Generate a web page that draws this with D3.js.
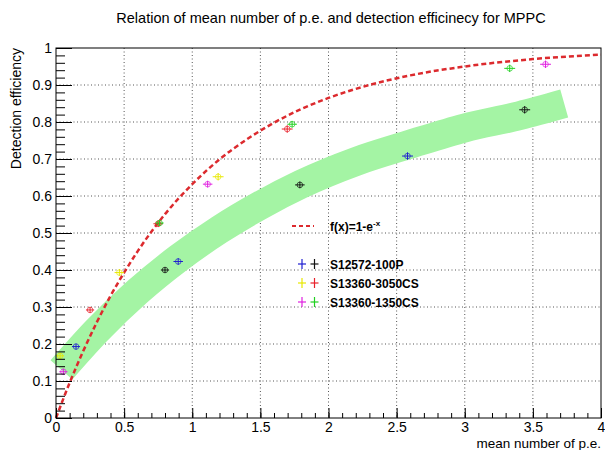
<!DOCTYPE html>
<html>
<head>
<meta charset="utf-8">
<script src="https://cdn.jsdelivr.net/npm/d3@7"></script>
<style>
	body { margin: 0; background: #fff; }
	svg { font-family: 'Liberation Sans', Arial, sans-serif; }
</style>
</head>
<body>
<div id="chart"></div>
<script>
// values
const xTicks = [0, 0.5, 1, 1.5, 2, 2.5, 3, 3.5, 4];
const yTicks = [0, 0.1, 0.2, 0.3, 0.4, 0.5, 0.6, 0.7, 0.8, 0.9, 1];

// S12572-100P
const blueX = [0.147, 0.897, 2.58];
const blueY = [0.193, 0.423, 0.708];
const blackX = [0.8, 1.79, 3.44];
const blackY = [0.4, 0.63, 0.833];
// S13360-3050CS
const yellowX = [0.03, 0.465, 1.19];
const yellowY = [0.168, 0.393, 0.652];
const redX = [0.25, 0.75, 1.697];
const redY = [0.292, 0.525, 0.781];
// S13360-1350CS
const magentaX = [0.054, 1.113, 3.593];
const magentaY = [0.125, 0.632, 0.956];
const greenX = [0.76, 1.733, 3.33];
const greenY = [0.527, 0.794, 0.945];

const errX = [0.03, 0.035, 0.04];
const errY = [0.008, 0.009, 0.01];

// broad green guide band (centre line)
const bandX = [0.04, 0.3, 0.6, 0.9, 1.2, 1.5, 1.8, 2.2, 2.6, 3.0, 3.4, 3.73];
const bandY = [0.13, 0.236, 0.342, 0.432, 0.509, 0.575, 0.632, 0.693, 0.74, 0.784, 0.817, 0.85];

// f(x) = 1 - e^-x sampled
const fX = [0, 0.1, 0.2, 0.3, 0.4, 0.5, 0.6, 0.8, 1.0, 1.2, 1.4, 1.6, 1.8, 2.0, 2.3, 2.6, 3.0, 3.5, 4.0];
const fY = [0, 0.095, 0.181, 0.259, 0.33, 0.393, 0.451, 0.551, 0.632, 0.699, 0.753, 0.798, 0.835, 0.865, 0.9, 0.926, 0.95, 0.97, 0.982];

const series = [
	{ name: 'blue', color: '#1f1fd0', x: blueX, y: blueY },
	{ name: 'black', color: '#111', x: blackX, y: blackY },
	{ name: 'yellow', color: '#e8e800', x: yellowX, y: yellowY },
	{ name: 'red', color: '#e8202a', x: redX, y: redY },
	{ name: 'magenta', color: '#e020e0', x: magentaX, y: magentaY },
	{ name: 'green', color: '#20d020', x: greenX, y: greenY },
];

const legendRows = [
	{ label: 'S12572-100P', colors: ['#1f1fd0', '#111'] },
	{ label: 'S13360-3050CS', colors: ['#e8e800', '#e8202a'] },
	{ label: 'S13360-1350CS', colors: ['#e020e0', '#20d020'] },
];

const W = 605, H = 450;
const margin = { top: 48, right: 4, bottom: 32, left: 56 };
const width = W - margin.left - margin.right;
const height = H - margin.top - margin.bottom;

const svg = d3.select('#chart').append('svg').attr('width', W).attr('height', H);

const x = d3.scaleLinear().domain([0, 4]).range([0, width]);
const y = d3.scaleLinear().domain([0, 1]).range([height, 0]);

const g = svg.append('g').attr('transform', `translate(${margin.left},${margin.top})`);

// grid
g.append('g')
	.selectAll('line')
	.data(xTicks.slice(1, -1))
	.join('line')
	.attr('x1', (d) => x(d)).attr('x2', (d) => x(d))
	.attr('y1', 0).attr('y2', height)
	.attr('stroke', '#555').attr('stroke-width', 1).attr('stroke-dasharray', '1,2.5');
g.append('g')
	.selectAll('line')
	.data(yTicks.slice(1, -1))
	.join('line')
	.attr('y1', (d) => y(d)).attr('y2', (d) => y(d))
	.attr('x1', 0).attr('x2', width)
	.attr('stroke', '#555').attr('stroke-width', 1).attr('stroke-dasharray', '1,2.5');

// band
const bandPts = bandX.map((d, i) => [d, bandY[i]]);
g.append('path')
	.datum(bandPts)
	.attr('fill', 'none')
	.attr('stroke', '#a4f4a4')
	.attr('stroke-width', 29)
	.attr('stroke-linecap', 'butt')
	.attr('d', d3.line().x((d) => x(d[0])).y((d) => y(d[1])).curve(d3.curveMonotoneX));

// f(x)
const fPts = fX.map((d, i) => [d, fY[i]]);
g.append('path')
	.datum(fPts)
	.attr('fill', 'none')
	.attr('stroke', '#dc2a2e')
	.attr('stroke-width', 2.5)
	.attr('stroke-dasharray', '5,3')
	.attr('d', d3.line().x((d) => x(d[0])).y((d) => y(d[1])).curve(d3.curveMonotoneX));

// points with error bars
series.forEach((s) => {
	const pts = s.x.map((d, i) => ({ x: d, y: s.y[i], ex: errX[i], ey: errY[i] }));
	const pg = g.append('g').attr('stroke', s.color).attr('fill', 'none').attr('stroke-width', 1);
	pg.selectAll('.ex').data(pts).join('line')
		.attr('x1', (d) => x(d.x - d.ex)).attr('x2', (d) => x(d.x + d.ex))
		.attr('y1', (d) => y(d.y)).attr('y2', (d) => y(d.y));
	pg.selectAll('.ey').data(pts).join('line')
		.attr('x1', (d) => x(d.x)).attr('x2', (d) => x(d.x))
		.attr('y1', (d) => y(d.y - d.ey)).attr('y2', (d) => y(d.y + d.ey));
	pg.selectAll('circle').data(pts).join('circle')
		.attr('cx', (d) => x(d.x)).attr('cy', (d) => y(d.y)).attr('r', 2.8)
		.attr('stroke-opacity', 0.7);
});

// axes
const xMinor = d3.range(0, 4.0001, 0.1);
const yMinor = d3.range(0, 1.0001, 0.02);

const xMinorG = g.append('g').attr('transform', `translate(0,${height})`)
	.call(d3.axisBottom(x).tickValues(xMinor).tickSize(-5).tickFormat(''));
const xMajorG = g.append('g').attr('transform', `translate(0,${height})`)
	.call(d3.axisBottom(x).tickValues(xTicks).tickSize(-10).tickPadding(4).tickFormat(d3.format('')));
const yMinorG = g.append('g')
	.call(d3.axisLeft(y).tickValues(yMinor).tickSize(-9).tickFormat(''));
const yMajorG = g.append('g')
	.call(d3.axisLeft(y).tickValues(yTicks).tickSize(-16).tickPadding(4).tickFormat(d3.format('')));

[xMinorG, xMajorG, yMinorG, yMajorG].forEach((a) => {
	a.select('.domain').remove();
	a.selectAll('line').attr('stroke', '#000');
	a.selectAll('text').attr('font-size', 14).attr('fill', '#000')
		.attr('font-family', "'Liberation Sans', Arial, sans-serif");
});

// frame
g.append('rect')
	.attr('width', width).attr('height', height)
	.attr('fill', 'none').attr('stroke', '#000').attr('stroke-width', 1);

// titles
svg.append('text')
	.attr('x', 331).attr('y', 23)
	.attr('text-anchor', 'middle').attr('font-size', 14.5)
	.text('Relation of mean number of p.e. and detection efficinecy for MPPC');

svg.append('text')
	.attr('x', margin.left + width).attr('y', 448)
	.attr('text-anchor', 'end').attr('font-size', 13.5)
	.text('mean number of p.e.');

svg.append('text')
	.attr('transform', `translate(21,${margin.top}) rotate(-90)`)
	.attr('text-anchor', 'end').attr('font-size', 14)
	.text('Detection efficiency');

// legend
const leg = svg.append('g').attr('font-size', 12).attr('font-weight', 'bold');
leg.append('line')
	.attr('x1', 292).attr('x2', 314).attr('y1', 226).attr('y2', 226)
	.attr('stroke', '#dc2a2e').attr('stroke-width', 2).attr('stroke-dasharray', '4,3');
const ft = leg.append('text').attr('x', 330).attr('y', 231);
ft.append('tspan').text('f(x)=1-e');
ft.append('tspan').attr('dy', -5).attr('font-size', 8).text('-x');

legendRows.forEach((r, i) => {
	const cy = 264 + i * 19;
	r.colors.forEach((c, j) => {
		const cx = 302 + j * 12.5;
		leg.append('line').attr('x1', cx - 4).attr('x2', cx + 4).attr('y1', cy).attr('y2', cy)
			.attr('stroke', c).attr('stroke-width', 1.2);
		leg.append('line').attr('x1', cx).attr('x2', cx).attr('y1', cy - 5).attr('y2', cy + 5)
			.attr('stroke', c).attr('stroke-width', 1.2);
	});
	leg.append('text').attr('x', 330).attr('y', cy + 4.5).text(r.label);
});
</script>
</body>
</html>
